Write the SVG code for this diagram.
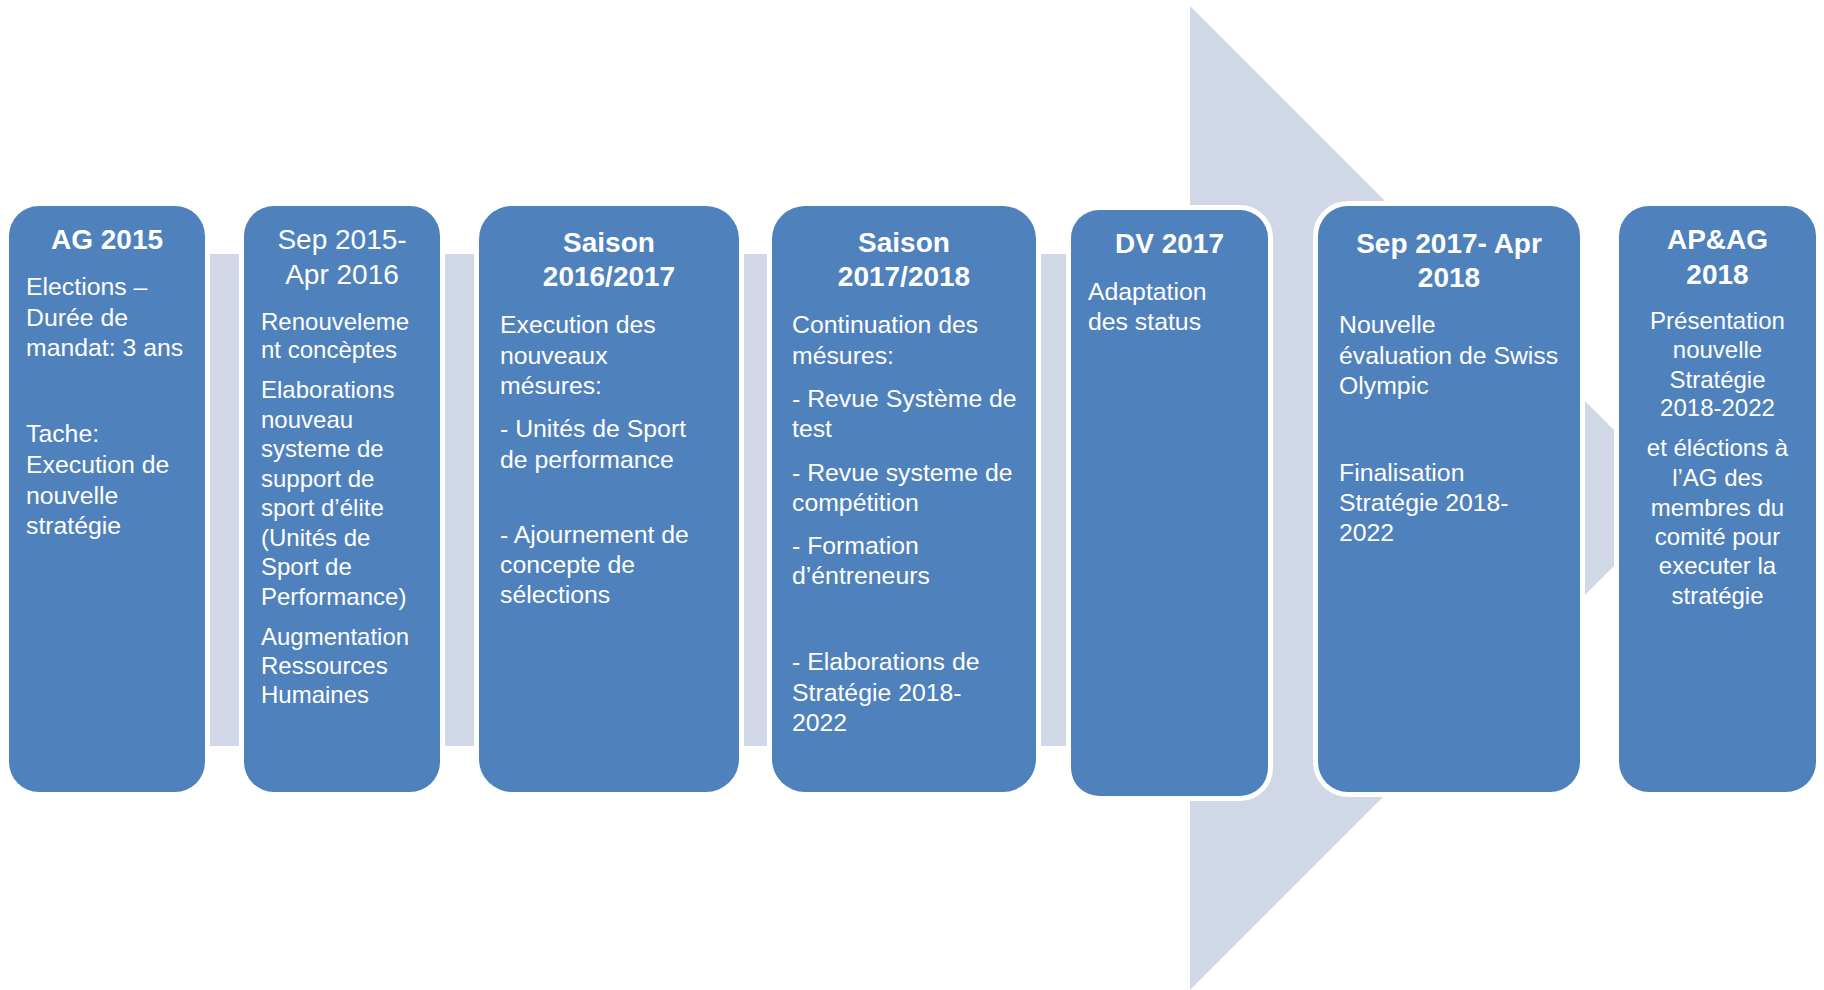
<svg xmlns="http://www.w3.org/2000/svg" width="1824" height="990" viewBox="0 0 1824 990">
<style>
.box{fill:#4F81BD;stroke:#FFFFFF;stroke-width:10;paint-order:stroke fill}
.t{font-family:"Liberation Sans",Arial,sans-serif;font-size:28px;font-weight:bold;fill:#FFFFFF;text-anchor:middle}
.tr{font-weight:normal}
.b{font-family:"Liberation Sans",Arial,sans-serif;font-size:24.8px;fill:#FFFFFF}
.s{font-size:24px}
.c{text-anchor:middle}
</style>
<rect width="1824" height="990" fill="#FFFFFF"/>
<g id="connectors">
<path d="M10,254 H1190 V6 L1682,498 L1190,990 V746 H10 Z" fill="#D0D8E8"/>
</g>
<g id="node1">
<rect class="box" x="9" y="206" width="196" height="586" rx="30"/>
<text class="t" x="107" y="249">AG 2015</text>
<text class="b"><tspan x="26" y="295">Elections –</tspan><tspan x="26" y="325.5">Durée de</tspan><tspan x="26" y="356">mandat: 3 ans</tspan><tspan x="26" y="442">Tache:</tspan><tspan x="26" y="473">Execution de</tspan><tspan x="26" y="503.5">nouvelle</tspan><tspan x="26" y="534">stratégie</tspan></text>
</g>
<g id="node2">
<rect class="box" x="244" y="206" width="196" height="586" rx="30"/>
<text class="t tr"><tspan x="342" y="249">Sep 2015-</tspan><tspan x="342" y="283.5">Apr 2016</tspan></text>
<text class="b s"><tspan x="261" y="329.5">Renouveleme</tspan><tspan x="261" y="358">nt concèptes</tspan><tspan x="261" y="398">Elaborations</tspan><tspan x="261" y="428">nouveau</tspan><tspan x="261" y="457">systeme de</tspan><tspan x="261" y="487">support de</tspan><tspan x="261" y="516">sport d’élite</tspan><tspan x="261" y="546">(Unités de</tspan><tspan x="261" y="575">Sport de</tspan><tspan x="261" y="605">Performance)</tspan><tspan x="261" y="645">Augmentation</tspan><tspan x="261" y="674">Ressources</tspan><tspan x="261" y="703">Humaines</tspan></text>
</g>
<g id="node3">
<rect class="box" x="479" y="206" width="260" height="586" rx="33"/>
<text class="t"><tspan x="609" y="252">Saison</tspan><tspan x="609" y="286">2016/2017</tspan></text>
<text class="b"><tspan x="500" y="333">Execution des</tspan><tspan x="500" y="364">nouveaux</tspan><tspan x="500" y="394">mésures:</tspan><tspan x="500" y="437">- Unités de Sport</tspan><tspan x="500" y="468">de performance</tspan><tspan x="500" y="542.5">- Ajournement de</tspan><tspan x="500" y="572.5">concepte de</tspan><tspan x="500" y="603">sélections</tspan></text>
</g>
<g id="node4">
<rect class="box" x="772" y="206" width="264" height="586" rx="33"/>
<text class="t"><tspan x="904" y="252">Saison</tspan><tspan x="904" y="286">2017/2018</tspan></text>
<text class="b"><tspan x="792" y="333">Continuation des</tspan><tspan x="792" y="364">mésures:</tspan><tspan x="792" y="407">- Revue Système de</tspan><tspan x="792" y="436.5">test</tspan><tspan x="792" y="480.5">- Revue systeme de</tspan><tspan x="792" y="511">compétition</tspan><tspan x="792" y="554">- Formation</tspan><tspan x="792" y="584">d’éntreneurs</tspan><tspan x="792" y="670">- Elaborations de</tspan><tspan x="792" y="700.5">Stratégie 2018-</tspan><tspan x="792" y="731">2022</tspan></text>
</g>
<g id="node5">
<rect class="box" x="1071" y="210" width="197" height="586" rx="28"/>
<text class="t" x="1169.5" y="252.5">DV 2017</text>
<text class="b"><tspan x="1088" y="300">Adaptation</tspan><tspan x="1088" y="329.5">des status</tspan></text>
</g>
<g id="node6">
<rect class="box" x="1318" y="206" width="262" height="586" rx="30"/>
<text class="t"><tspan x="1449" y="252.5">Sep 2017- Apr</tspan><tspan x="1449" y="287">2018</tspan></text>
<text class="b"><tspan x="1339" y="333">Nouvelle</tspan><tspan x="1339" y="363.5">évaluation de Swiss</tspan><tspan x="1339" y="394">Olympic</tspan><tspan x="1339" y="480.5">Finalisation</tspan><tspan x="1339" y="511">Stratégie 2018-</tspan><tspan x="1339" y="541">2022</tspan></text>
</g>
<g id="node7">
<rect class="box" x="1619" y="206" width="197" height="586" rx="30"/>
<text class="t"><tspan x="1717.5" y="249">AP&amp;AG</tspan><tspan x="1717.5" y="283.5">2018</tspan></text>
<text class="b s c"><tspan x="1717.5" y="329">Présentation</tspan><tspan x="1717.5" y="358">nouvelle</tspan><tspan x="1717.5" y="387.5">Stratégie</tspan><tspan x="1717.5" y="415.5">2018-2022</tspan><tspan x="1717.5" y="455.5">et éléctions à</tspan><tspan x="1717.5" y="486">l’AG des</tspan><tspan x="1717.5" y="515.5">membres du</tspan><tspan x="1717.5" y="545">comité pour</tspan><tspan x="1717.5" y="574">executer la</tspan><tspan x="1717.5" y="603.5">stratégie</tspan></text>
</g>
</svg>
